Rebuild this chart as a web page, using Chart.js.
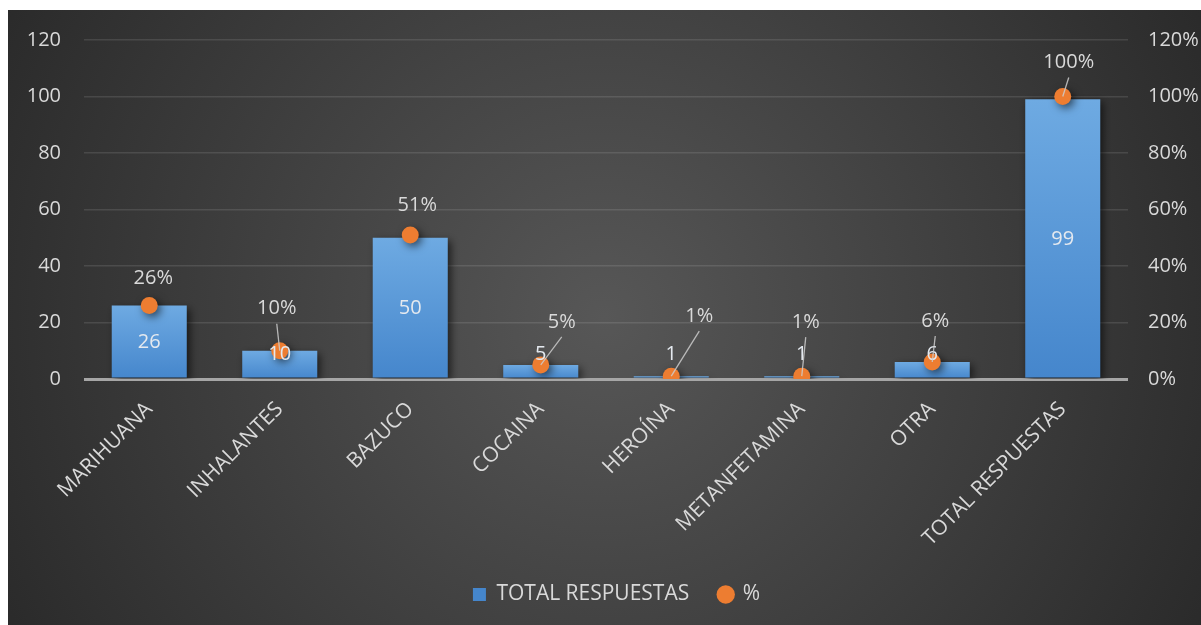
<!DOCTYPE html>
<html>
<head>
<meta charset="utf-8">
<script src="https://cdn.jsdelivr.net/npm/chart.js@4.4.0/dist/chart.umd.min.js"></script>
<style>
  html, body { margin: 0; padding: 0; background: #fff; }
  #wrap { position: absolute; left: 8px; top: 10px; width: 1193px; height: 615px; }
</style>
</head>
<body>
<div id="wrap"><canvas id="grafico"></canvas></div>
<script>
// --- Datos ---
const categorias = ['MARIHUANA', 'INHALANTES', 'BAZUCO', 'COCAINA', 'HEROÍNA', 'METANFETAMINA', 'OTRA', 'TOTAL RESPUESTAS'];
const totalRespuestas = [26, 10, 50, 5, 1, 1, 6, 99];
const porcentajes = [26, 10, 51, 5, 1, 1, 6, 100];
const ticksIzq = [0, 20, 40, 60, 80, 100, 120];
const ticksDer = [0, 20, 40, 60, 80, 100, 120];

// posicion de las etiquetas de % respecto al punto (dx, dy) y si llevan linea guia
const offsetsPct = [[4, -27], [-3, -42], [7, -30], [21, -43], [28, -60], [4, -54], [3, -41], [6, -34]];
const conGuia = [false, true, false, true, true, true, true, true];

const TEXTO = '#d9d9d9';
Chart.defaults.font.family = '"Open Sans", sans-serif';
Chart.defaults.font.size = 20;
Chart.defaults.color = TEXTO;

// --- Plugins ---
const fondo = {
  id: 'fondo',
  beforeDraw(chart) {
    const { ctx, width, height } = chart;
    const g = ctx.createRadialGradient(width * 0.5, height * 0.5, 0, width * 0.5, height * 0.5, width * 0.62);
    g.addColorStop(0, '#575757');
    g.addColorStop(1, '#262626');
    ctx.save();
    ctx.fillStyle = g;
    ctx.fillRect(0, 0, width, height);
    ctx.restore();
  }
};

// corre la leyenda un poco a la derecha
const leyendaCorrida = {
  id: 'leyendaCorrida',
  afterLayout(chart) {
    if (!chart.legend) return;
    chart.legend.left += 12;
    chart.legend.right += 12;
  }
};

const sombras = {
  id: 'sombras',
  beforeDatasetDraw(chart) {
    const ctx = chart.ctx;
    ctx.save();
    ctx.shadowColor = 'rgba(0,0,0,0.6)';
    ctx.shadowBlur = 8;
    ctx.shadowOffsetX = 3;
    ctx.shadowOffsetY = 3;
  },
  afterDatasetDraw(chart) {
    chart.ctx.restore();
  }
};

const etiquetas = {
  id: 'etiquetas',
  afterDatasetsDraw(chart) {
    const ctx = chart.ctx;
    const barras = chart.getDatasetMeta(0).data;
    const puntos = chart.getDatasetMeta(1).data;
    const base = chart.scales.y.getPixelForValue(0);
    ctx.save();
    ctx.font = '20px "Open Sans", sans-serif';
    ctx.textAlign = 'center';
    ctx.textBaseline = 'middle';

    // valores dentro de las barras
    ctx.fillStyle = '#e4e9ef';
    barras.forEach((b, i) => {
      const y = Math.min((b.y + base) / 2, base - 25);
      ctx.fillText(totalRespuestas[i], b.x, y);
    });

    // porcentajes con su linea guia
    puntos.forEach((p, i) => {
      const [dx, dy] = offsetsPct[i];
      const tx = p.x + dx, ty = p.y + dy;
      if (conGuia[i]) {
        ctx.strokeStyle = 'rgba(205,205,205,0.85)';
        ctx.lineWidth = 1.3;
        ctx.beginPath();
        ctx.moveTo(tx, ty + 15);
        ctx.lineTo(p.x, p.y);
        ctx.stroke();
      }
      ctx.fillStyle = TEXTO;
      ctx.fillText(porcentajes[i] + '%', tx, ty);
    });
    ctx.restore();
  }
};

// degradado azul por barra
function colorBarra(c) {
  const chart = c.chart;
  const ys = chart.scales && chart.scales.y;
  if (!ys || c.dataIndex === undefined || !chart.chartArea) return '#5b9bd5';
  const top = ys.getPixelForValue(totalRespuestas[c.dataIndex]);
  const bot = ys.getPixelForValue(0);
  if (!isFinite(top) || !isFinite(bot) || top === bot) return '#5b9bd5';
  const g = chart.ctx.createLinearGradient(0, top, 0, bot);
  g.addColorStop(0, '#6eaae2');
  g.addColorStop(1, '#4586cc');
  return g;
}

// los ejes verticales no reservan espacio extra arriba/abajo
function sinRelleno(s, ancho) {
  s.width = ancho;
  s.paddingTop = 0;
  s.paddingBottom = 0;
}

const ctx = document.getElementById('grafico').getContext('2d');

const grafico = new Chart(ctx, {
  type: 'bar',
  data: {
    labels: categorias,
    datasets: [{
      label: 'TOTAL RESPUESTAS',
      data: totalRespuestas,
      backgroundColor: colorBarra,
      borderWidth: 0,
      barPercentage: 0.575,
      categoryPercentage: 1,
      pointStyle: 'rect',
      yAxisID: 'y',
      order: 1
    }, {
      type: 'line',
      label: '%',
      data: porcentajes,
      showLine: false,
      pointRadius: 8.5,
      pointHoverRadius: 8.5,
      pointBackgroundColor: '#ed7d31',
      pointBorderWidth: 0,
      backgroundColor: '#ed7d31',
      borderColor: '#ed7d31',
      pointStyle: 'circle',
      yAxisID: 'y1',
      order: 0
    }]
  },
  options: {
    responsive: true,
    maintainAspectRatio: false,
    animation: false,
    layout: { padding: { top: 30, bottom: 10, left: 0, right: 0 } },
    plugins: {
      legend: {
        position: 'bottom',
        labels: {
          usePointStyle: true,
          boxWidth: 13,
          boxHeight: 13,
          padding: 30,
          color: TEXTO,
          font: { size: 21 },
          sort: (a, b) => a.datasetIndex - b.datasetIndex
        }
      },
      tooltip: { enabled: false }
    },
    scales: {
      x: {
        grid: { display: false },
        border: { display: false },
        ticks: { color: TEXTO, maxRotation: 45, minRotation: 45, padding: 10, font: { size: 21 } },
        afterFit: (s) => { s.height = 175; }
      },
      y: {
        position: 'left',
        min: 0,
        max: 120,
        afterBuildTicks: (s) => { s.ticks = ticksIzq.map(v => ({ value: v })); },
        grid: {
          drawTicks: false,
          color: (c) => c.tick && c.tick.value === 0 ? '#a6a6a6' : 'rgba(255,255,255,0.11)',
          lineWidth: (c) => c.tick && c.tick.value === 0 ? 3 : 1.5
        },
        border: { display: false },
        ticks: { color: TEXTO, padding: 23, font: { size: 20 } },
        afterFit: (s) => sinRelleno(s, 76)
      },
      y1: {
        position: 'right',
        min: 0,
        max: 120,
        afterBuildTicks: (s) => { s.ticks = ticksDer.map(v => ({ value: v })); },
        grid: { display: false, drawTicks: false },
        border: { display: false },
        ticks: { color: TEXTO, padding: 20, font: { size: 20 }, callback: (v) => v + '%' },
        afterFit: (s) => sinRelleno(s, 73)
      }
    }
  },
  plugins: [fondo, leyendaCorrida, sombras, etiquetas]
});
</script>
</body>
</html>
